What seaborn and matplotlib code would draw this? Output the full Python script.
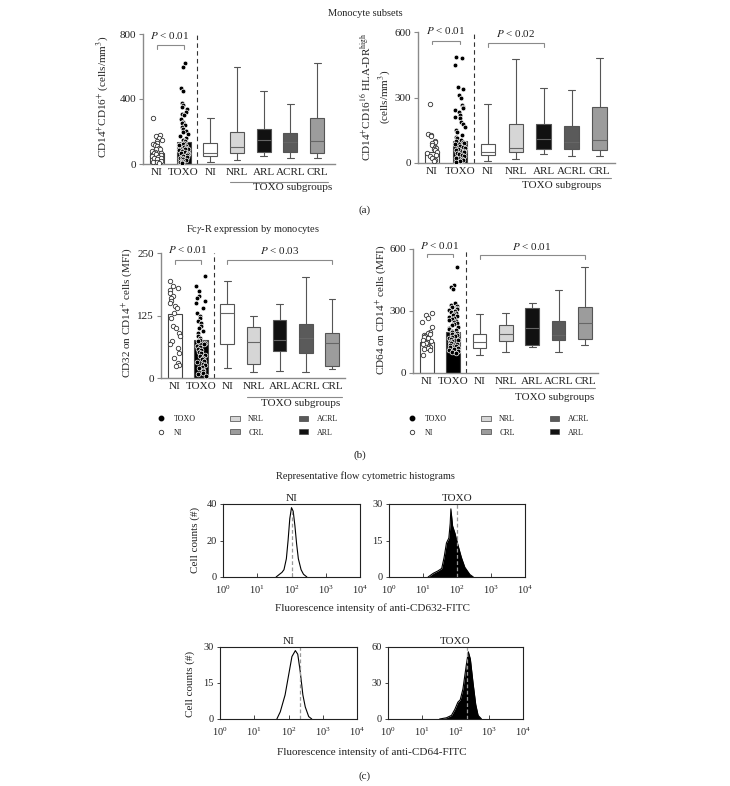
import warnings
import numpy as np
import pandas as pd
import matplotlib
matplotlib.use("Agg")
import matplotlib.pyplot as plt
from matplotlib.lines import Line2D
from matplotlib.patches import Patch
import seaborn as sns

warnings.filterwarnings("ignore")

# categories on the x axis of the dot/box panels
groups = ["NI", "TOXO", "NI_box", "NRL", "ARL", "ACRL", "CRL"]
tick_labels = ["NI", "TOXO", "NI", "NRL", "ARL", "ACRL", "CRL"]
box_groups = ["NI_box", "NRL", "ARL", "ACRL", "CRL"]
box_colors = {"NI_box": "white", "NRL": "#d6d6d6", "ARL": "#111111",
              "ACRL": "#5a5a5a", "CRL": "#9c9c9c"}

# (a) CD14+CD16+ -- bar = NI/TOXO, boxes = whisker low, q1, median, q3, whisker high
a1_bars = [70, 134]
a1_ni = [285, 180, 170, 160, 150, 140, 130, 125, 120, 110, 100, 95, 90, 80,
         75, 70, 65, 60, 55, 50, 45, 40, 35, 30, 20, 15, 10, 5]
a1_toxo = [620, 600, 470, 450, 375, 365, 350, 340, 320, 310, 300, 275, 260,
           250, 240, 230, 215, 205, 195, 185, 170, 160, 150, 145, 140, 130,
           125, 120, 115, 110, 105, 100, 95, 90, 85, 80, 75, 70, 65, 60, 55,
           50, 45, 40, 35, 30, 25, 20, 15, 10, 5]
a1_boxes = {"NI_box": [15, 50, 70, 130, 285], "NRL": [25, 70, 105, 200, 600],
            "ARL": [50, 75, 150, 215, 450], "ACRL": [40, 75, 135, 190, 370],
            "CRL": [35, 70, 140, 285, 620]}

# (a) CD14+CD16+ HLA-DR high
a2_bars = [50, 99]
a2_ni = [270, 135, 128, 122, 100, 95, 90, 82, 75, 70, 64, 60, 52, 45, 38,
         30, 22, 15, 8]
a2_toxo = [485, 480, 450, 350, 340, 310, 300, 265, 258, 250, 243, 232, 220,
           212, 205, 190, 178, 166, 150, 140, 128, 120, 113, 105, 100, 95, 90,
           85, 80, 75, 70, 65, 60, 55, 50, 45, 40, 35, 30, 25, 20, 15, 10, 5]
a2_boxes = {"NI_box": [10, 35, 50, 85, 270], "NRL": [20, 50, 68, 180, 475],
            "ARL": [43, 65, 110, 180, 345], "ACRL": [30, 65, 95, 170, 335],
            "CRL": [30, 60, 105, 255, 480]}

# (b) CD32 on CD14+ cells
b1_bars = [129, 77]
b1_ni = [195, 185, 180, 176, 170, 165, 160, 155, 150, 145, 140, 130, 120,
         105, 100, 90, 85, 75, 68, 60, 50, 40, 30, 27, 24]
b1_toxo = [205, 185, 175, 165, 160, 155, 150, 140, 130, 125, 120, 115, 110,
           105, 100, 95, 90, 85, 80, 77, 74, 71, 68, 65, 62, 59, 56, 53, 50,
           47, 44, 41, 38, 35, 32, 29, 26, 23, 20, 17, 14, 11, 8, 5]
b1_boxes = {"NI_box": [20, 68, 130, 148, 195], "NRL": [12, 28, 72, 102, 125],
            "ARL": [15, 55, 77, 117, 148], "ACRL": [13, 50, 80, 108, 203],
            "CRL": [18, 25, 70, 90, 158]}

# (b) CD64 on CD14+ cells
b2_bars = [150, 200]
b2_ni = [290, 280, 265, 245, 225, 200, 195, 190, 185, 180, 175, 170, 160,
         155, 150, 145, 140, 130, 125, 120, 115, 110, 85]
b2_toxo = [515, 425, 415, 405, 340, 330, 325, 320, 315, 310, 305, 300, 295,
           290, 285, 280, 275, 270, 265, 260, 255, 250, 245, 240, 235, 230,
           225, 220, 215, 210, 205, 200, 195, 190, 185, 180, 175, 170, 165,
           160, 155, 150, 145, 140, 135, 130, 125, 120, 115, 110, 105, 100, 95]
b2_boxes = {"NI_box": [85, 120, 150, 190, 285], "NRL": [100, 155, 190, 230, 290],
            "ARL": [125, 135, 220, 315, 340], "ACRL": [100, 160, 185, 250, 400],
            "CRL": [135, 165, 240, 320, 515]}

# (c) flow cytometry histograms: log10 intensity vs cell counts
ni632_logx = [1.55, 1.65, 1.72, 1.78, 1.85, 1.90, 1.95, 2.00, 2.05, 2.10, 2.15, 2.20, 2.28, 2.35, 2.45]
ni632_cnt = [0, 1.5, 2.5, 4, 10, 20, 32, 38, 36, 28, 18, 10, 4, 1.5, 0]
toxo632_logx = [1.15, 1.30, 1.44, 1.55, 1.62, 1.69, 1.76, 1.80, 1.82, 1.87, 1.94, 2.03, 2.13, 2.23, 2.38, 2.48]
toxo632_cnt = [0, 1.5, 2.5, 3.5, 8, 14, 16, 22, 28, 21, 18, 13, 8, 4, 1, 0]
ni64_logx = [1.66, 1.76, 1.90, 2.00, 2.10, 2.20, 2.27, 2.34, 2.42, 2.49, 2.59, 2.68]
ni64_cnt = [0, 3, 10, 18, 26, 28.5, 27, 20, 10, 5, 1, 0]
toxo64_logx = [1.53, 1.73, 1.88, 1.98, 2.07, 2.14, 2.22, 2.32, 2.38, 2.44, 2.52, 2.60, 2.67, 2.77]
toxo64_cnt = [0, 1, 3, 8, 14, 16, 25, 45, 56, 50, 30, 12, 3, 0]
gate632 = 2.0
gate64 = 2.34

sns.set_theme(style="ticks")
plt.rcParams["font.family"] = ["Liberation Serif", "DejaVu Serif"]
plt.rcParams["mathtext.fontset"] = "stix"

W, H = 730, 786
GRAY = "#8a8a8a"
TXT = "#222222"
FS = 8

# keep the strip jitter identical from run to run
np.random.seed(7)


def rect(l, t, r, b):
    return [l / W, 1 - b / H, (r - l) / W, (b - t) / H]


def ftext(x, y, s, **kw):
    kw.setdefault("fontsize", FS)
    kw.setdefault("ha", "center")
    kw.setdefault("va", "center")
    kw.setdefault("color", TXT)
    fig.text(x / W, 1 - y / H, s, **kw)


def bracket(ax, x1, x2, y, leg, label, ty):
    ax.plot([x1, x1, x2, x2], [y - leg, y, y, y - leg], color=GRAY, lw=0.8,
            clip_on=False, solid_joinstyle="miter")
    ax.text((x1 + x2) / 2, ty, label, ha="center", va="center", fontsize=FS,
            color=TXT, clip_on=False)


def dot_panel(ax, bars, ni_pts, toxo_pts, boxes, ymax, xlim, ax_h, sub_off, sub_x):
    bar_df = pd.DataFrame({"group": ["NI", "TOXO"], "value": bars})
    sns.barplot(data=bar_df, x="group", y="value", order=groups, hue="group",
                palette={"NI": "white", "TOXO": "black"}, saturation=1,
                width=0.52, edgecolor="#444444", linewidth=0.8, errorbar=None,
                legend=False, dodge=False, ax=ax)
    sns.stripplot(x=["NI"] * len(ni_pts), y=ni_pts, order=groups, color="white",
                  edgecolor="#333333", linewidth=0.6, size=3.2, jitter=0.19, ax=ax)
    sns.stripplot(x=["TOXO"] * len(toxo_pts), y=toxo_pts, order=groups,
                  color="black", edgecolor="white", linewidth=0.5, size=3.4,
                  jitter=0.19, ax=ax)
    box_df = pd.DataFrame({"group": np.repeat(box_groups, 5),
                           "value": np.concatenate([boxes[g] for g in box_groups])})
    sns.boxplot(data=box_df, x="group", y="value", order=groups, hue="group",
                palette=box_colors, saturation=1, whis=(0, 100), width=0.52,
                linecolor="#555555", linewidth=0.8, showfliers=False,
                dodge=False, legend=False, medianprops={"color": "#666666"}, ax=ax)
    ax.axvline(1.5, color="#333333", lw=0.8, ls=(0, (4, 3)))
    ax.set_xlim(*xlim)
    ax.set_ylim(0, ymax)
    ax.set_yticks([0, ymax / 2, ymax])
    ax.set_yticklabels([f"{v:g}" for v in [0, ymax / 2, ymax]])
    ax.set_xticks(range(len(groups)))
    ax.set_xticklabels(tick_labels)
    ax.set_xlabel("")
    ax.set_ylabel("")
    sns.despine(ax=ax)
    for sp in ["left", "bottom"]:
        ax.spines[sp].set_color(GRAY)
        ax.spines[sp].set_linewidth(1.0)
    ax.tick_params(axis="x", length=0, pad=3, labelsize=FS, labelcolor=TXT)
    ax.tick_params(axis="y", length=3, width=0.8, color=GRAY, pad=2,
                   labelsize=FS, labelcolor=TXT)
    tr = ax.get_xaxis_transform()
    ax.plot([2.75, 6.4], [-sub_off[0] / ax_h] * 2, color=GRAY, lw=0.8,
            transform=tr, clip_on=False)
    ax.text(sub_x, -sub_off[1] / ax_h, "TOXO subgroups", transform=tr,
            ha="center", va="center", fontsize=FS, color=TXT, clip_on=False)


def hist_panel(ax, logx, cnt, ymax, gate, gate_h, filled, title):
    xs = [10 ** v for v in logx]
    if filled:
        ax.fill_between(xs, cnt, color="black", lw=0)
    sns.lineplot(x=xs, y=cnt, color="black", lw=0.8, ax=ax, sort=False)
    ax.plot([10 ** gate] * 2, [0, gate_h], color="#999999", lw=0.9, ls=(0, (3, 2)))
    ax.set_xscale("log")
    ax.set_xlim(1, 1e4)
    ax.set_ylim(0, ymax)
    ax.set_xticks([1, 10, 100, 1000, 10000])
    ax.set_yticks([0, ymax / 2, ymax])
    ax.set_yticklabels([f"{v:g}" for v in [0, ymax / 2, ymax]])
    for sp in ax.spines.values():
        sp.set_color("#222222")
        sp.set_linewidth(0.8)
        sp.set_visible(True)
    ax.tick_params(axis="x", which="major", direction="in", length=3, width=0.6,
                   labelsize=7.5, pad=5, labelcolor=TXT)
    ax.tick_params(axis="x", which="minor", direction="in", length=1.5, width=0.5)
    ax.tick_params(axis="y", length=2.5, width=0.6, labelsize=7.5, pad=2, labelcolor=TXT)
    ax.set_title(title, fontsize=FS, pad=2, color=TXT)


fig = plt.figure(figsize=(W / 100, H / 100), dpi=100)

# ---- (a) ----
ax = fig.add_axes(rect(143, 34, 335, 164))
dot_panel(ax, a1_bars, a1_ni, a1_toxo, a1_boxes, 800, (-0.52, 6.67), 130, (18, 24), 5.1)
bracket(ax, 0, 1, 734, 27, r"$P$ < 0.01", 792)

ax = fig.add_axes(rect(418, 32, 615, 163))
dot_panel(ax, a2_bars, a2_ni, a2_toxo, a2_boxes, 600, (-0.5, 6.55), 131, (15, 22), 4.65)
bracket(ax, 0, 1, 560, 16, r"$P$ < 0.01", 605)
bracket(ax, 2, 4, 551, 18, r"$P$ < 0.02", 591)

# ---- (b) ----
ax = fig.add_axes(rect(161, 253, 345, 378))
dot_panel(ax, b1_bars, b1_ni, b1_toxo, b1_boxes, 250, (-0.53, 6.5), 125, (19, 26), 4.8)
bracket(ax, 0, 1, 236, 8, r"$P$ < 0.01", 258)
bracket(ax, 2, 6, 236, 8, r"$P$ < 0.03", 256)

ax = fig.add_axes(rect(413, 249, 598, 373))
dot_panel(ax, b2_bars, b2_ni, b2_toxo, b2_boxes, 600, (-0.53, 6.5), 124, (15, 24), 4.85)
bracket(ax, 0, 1, 576, 16, r"$P$ < 0.01", 616)
bracket(ax, 2, 6, 573, 19, r"$P$ < 0.01", 613)

# ---- (c) ----
ax = fig.add_axes(rect(223, 504, 360, 577))
hist_panel(ax, ni632_logx, ni632_cnt, 40, gate632, 37, False, "NI")
ax = fig.add_axes(rect(389, 504, 525, 577))
hist_panel(ax, toxo632_logx, toxo632_cnt, 30, gate632, 30, True, "TOXO")
ax = fig.add_axes(rect(220, 647, 357, 719))
hist_panel(ax, ni64_logx, ni64_cnt, 30, gate64, 30, False, "NI")
ax = fig.add_axes(rect(388, 647, 523, 719))
hist_panel(ax, toxo64_logx, toxo64_cnt, 60, gate64, 60, True, "TOXO")

# legends under (b)
legend_labels = ["TOXO", "NI", "NRL", "CRL", "ACRL", "ARL"]
for left in (156, 407):
    handles = [
        Line2D([], [], ls="none", marker="o", ms=3.2, mfc="black", mec="black"),
        Line2D([], [], ls="none", marker="o", ms=3.2, mfc="white", mec="#333333", mew=0.6),
        Patch(fc=box_colors["NRL"], ec="#444444", lw=0.5),
        Patch(fc=box_colors["CRL"], ec="#444444", lw=0.5),
        Patch(fc=box_colors["ACRL"], ec="#444444", lw=0.5),
        Patch(fc=box_colors["ARL"], ec="#444444", lw=0.5),
    ]
    fig.legend(handles, legend_labels, loc="upper left",
               bbox_to_anchor=(left / W, 1 - 415 / H), ncol=3, frameon=False,
               fontsize=5.8, handlelength=1.2, handleheight=0.55,
               handletextpad=1.0, columnspacing=4.3, labelspacing=0.7,
               borderpad=0, borderaxespad=0, labelcolor=TXT)

# texts
ftext(365, 13, "Monocyte subsets", fontsize=7.5)
ftext(103, 97, r"CD14$^{+}$CD16$^{+}$ (cells/mm$^{3}$)", rotation=90)
ftext(376, 97, "CD14$^{+}$CD16$^{16}$ HLA-DR$^{\\rm high}$\n(cells/mm$^{3}$)",
      rotation=90, linespacing=1.3)
ftext(365, 210, "(a)")
ftext(253, 229, r"Fc$\gamma$-R expression by monocytes", fontsize=7.5)
ftext(127, 313, r"CD32 on CD14$^{+}$ cells (MFI)", rotation=90)
ftext(381, 310, r"CD64 on CD14$^{+}$ cells (MFI)", rotation=90)
ftext(360, 455, "(b)")
ftext(365, 476, "Representative flow cytometric histograms", fontsize=7.5)
ftext(195, 540, "Cell counts (#)", rotation=90)
ftext(373, 608, "Fluorescence intensity of anti-CD632-FITC")
ftext(190, 684, "Cell counts (#)", rotation=90)
ftext(372, 752, "Fluorescence intensity of anti-CD64-FITC")
ftext(365, 776, "(c)")

fig.savefig("out.png", dpi=100)
